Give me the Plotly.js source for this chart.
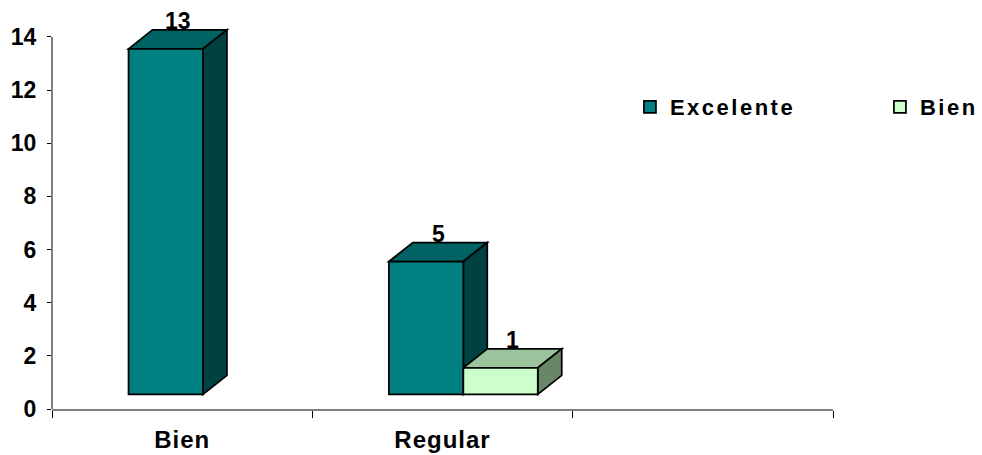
<!DOCTYPE html>
<html>
<head>
<meta charset="utf-8">
<script src="https://cdn.plot.ly/plotly-3.0.1.min.js"></script>
<style>
  html, body { margin: 0; padding: 0; background: #ffffff; }
  #chart { width: 982px; height: 455px; }
  /* slightly loose tracking on category and legend labels */
  #chart .legendtext { letter-spacing: 2.5px; }
  #chart .xtick text { letter-spacing: 1px; }
</style>
</head>
<body>
<div id="chart"></div>
<script>
// Values
const CATEGORIES = ['Bien', 'Regular', ''];
const SERIES_NAMES = ['Excelente', 'Bien'];
const EXCELENTE = [13, 5, null];
const BIEN = [null, 1, null];
const Y_TICKS = [0, 2, 4, 6, 8, 10, 12, 14];

// Geometry of the pseudo-3D columns (axis units)
const BAR_W = 0.286;             // front face width
const BAR_OFFSET = [-0.206, 0.08]; // left edge of each series relative to the category centre
const DEPTH_X = 0.092;           // horizontal depth of the extrusion
const DEPTH_Y = 0.714;           // vertical depth of the extrusion
const FLOOR = 0.55;              // front faces start slightly above zero

// Face colours: front, top, side
const FACE_COLORS = [
  { front: '#008080', top: '#006262', side: '#004242' },
  { front: '#ccffcc', top: '#9cc49c', side: '#678767' }
];

const FONT = 'Liberation Sans, Arial, sans-serif';
const EDGE = { color: '#000000', width: 1.75 };

const SERIES = [EXCELENTE, BIEN];
const xs = CATEGORIES.map((_, i) => i + 0.5);

const traces = SERIES.map((vals, s) => ({
  type: 'bar',
  name: SERIES_NAMES[s],
  x: xs,
  y: vals,
  base: FLOOR,
  width: BAR_W,
  offset: BAR_OFFSET[s],
  marker: { color: FACE_COLORS[s].front, line: EDGE },
  hoverinfo: 'skip'
}));

// Top and side faces plus value labels
const shapes = [];
const annotations = [];
CATEGORIES.forEach((_, i) => {
  SERIES.forEach((vals, s) => {
    const v = vals[i];
    if (v === null || v === undefined) return;
    const x0 = xs[i] + BAR_OFFSET[s];
    const x1 = x0 + BAR_W;
    const y0 = FLOOR;
    const y1 = FLOOR + v;
    shapes.push({
      type: 'path', xref: 'x', yref: 'y', layer: 'below',
      path: `M${x0},${y1} L${x0 + DEPTH_X},${y1 + DEPTH_Y} L${x1 + DEPTH_X},${y1 + DEPTH_Y} L${x1},${y1} Z`,
      fillcolor: FACE_COLORS[s].top, line: EDGE
    });
    shapes.push({
      type: 'path', xref: 'x', yref: 'y', layer: 'below',
      path: `M${x1},${y0} L${x1 + DEPTH_X},${y0 + DEPTH_Y} L${x1 + DEPTH_X},${y1 + DEPTH_Y} L${x1},${y1} Z`,
      fillcolor: FACE_COLORS[s].side, line: EDGE
    });
    annotations.push({
      x: x0 + BAR_W / 2 + DEPTH_X / 2,
      y: y1 + DEPTH_Y,
      xref: 'x', yref: 'y',
      text: String(v),
      showarrow: false,
      yanchor: 'middle',
      yshift: 9,
      font: { family: FONT, size: 23, weight: 'bold', color: '#000000' }
    });
  });
});

// Value axis line, ending at the top tick
shapes.push({
  type: 'line', xref: 'paper', yref: 'y', layer: 'above',
  x0: 0, x1: 0, y0: 0, y1: Y_TICKS[Y_TICKS.length - 1],
  line: { color: '#000000', width: 1 }
});

const layout = {
  width: 982,
  height: 455,
  margin: { l: 52, r: 149, t: 21, b: 46, autoexpand: false },
  paper_bgcolor: '#ffffff',
  plot_bgcolor: '#ffffff',
  barmode: 'overlay',
  showlegend: true,
  font: { family: FONT, color: '#000000' },
  xaxis: {
    range: [0, 3],
    tickmode: 'array',
    tickvals: xs,
    ticktext: CATEGORIES,
    ticks: '',
    ticklabelstandoff: 9,
    tickfont: { family: FONT, size: 24, weight: 'bold', color: '#000000' },
    showline: true,
    linecolor: '#808080',
    linewidth: 1.5,
    showgrid: false,
    zeroline: false,
    minor: {
      tickmode: 'array',
      tickvals: [0, 1, 2, 3],
      ticks: 'outside',
      ticklen: 7,
      tickwidth: 1,
      tickcolor: '#000000',
      showgrid: false
    },
    fixedrange: true
  },
  yaxis: {
    range: [0, 14.6],
    tickmode: 'array',
    tickvals: Y_TICKS,
    ticks: 'outside',
    ticklen: 4,
    tickwidth: 1,
    tickcolor: '#000000',
    ticklabelstandoff: 6,
    tickfont: { family: FONT, size: 23, weight: 'bold', color: '#000000' },
    showline: false,
    showgrid: false,
    zeroline: false,
    fixedrange: true
  },
  legend: {
    orientation: 'h',
    xref: 'paper',
    yref: 'paper',
    x: 0.740,
    y: 0.8325,
    xanchor: 'left',
    yanchor: 'top',
    entrywidth: 205,
    entrywidthmode: 'pixels',
    bgcolor: 'rgba(0,0,0,0)',
    font: { family: FONT, size: 22, weight: 'bold', color: '#000000' }
  },
  shapes: shapes,
  annotations: annotations
};

Plotly.newPlot('chart', traces, layout, { displayModeBar: false, staticPlot: true });
</script>
</body>
</html>
